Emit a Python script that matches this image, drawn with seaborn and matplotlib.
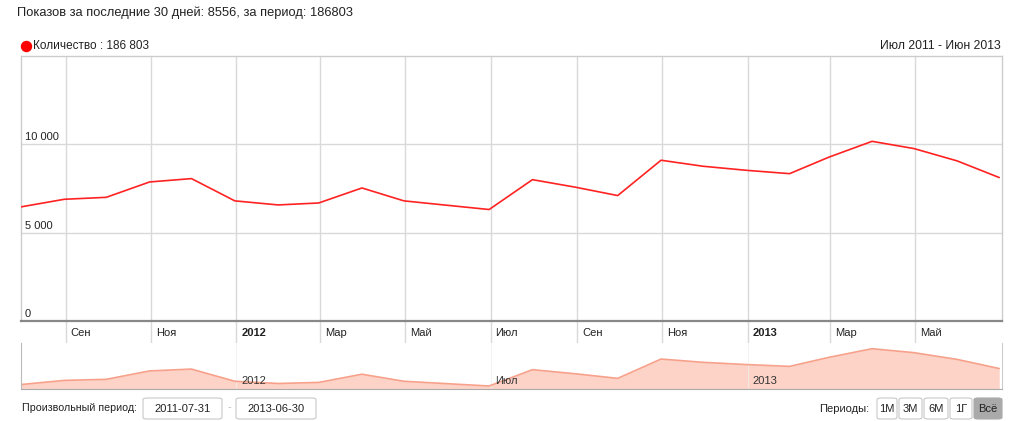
import pandas as pd
import matplotlib
matplotlib.use("Agg")
import matplotlib.pyplot as plt
import matplotlib.transforms as mtransforms
from matplotlib.patches import FancyBboxPatch
from matplotlib.lines import Line2D
import seaborn as sns

# monthly views (end of month)
months = pd.date_range("2011-07-31", "2013-06-30", freq="ME")
views = [6460, 6890, 7000, 7870, 8060, 6800, 6570, 6680, 7530, 6800, 6550, 6310,
         8000, 7570, 7100, 9100, 8760, 8530, 8340, 9270, 10170, 9760, 9060, 8120]

tick_dates = ["2011-09-01", "2011-11-01", "2012-01-01", "2012-03-01", "2012-05-01",
              "2012-07-01", "2012-09-01", "2012-11-01", "2013-01-01", "2013-03-01",
              "2013-05-01"]
tick_labels = ["Сен", "Ноя", "2012", "Мар", "Май", "Июл", "Сен", "Ноя", "2013", "Мар", "Май"]
y_ticks = [0, 5000, 10000]
y_labels = ["0", "5 000", "10 000"]
nav_marks = ["2012-01-01", "2012-07-01", "2013-01-01"]
nav_labels = ["2012", "Июл", "2013"]
periods = ["1М", "3М", "6М", "1Г", "Всё"]

df = pd.DataFrame({"date": months, "views": views})

sns.set_style("white")
plt.rcParams["font.family"] = ["Liberation Sans", "DejaVu Sans"]

fig = plt.figure(figsize=(10.24, 4.21), dpi=100)
W, H = 1024, 421


def fx(px):
    return px / W


def fy(py):
    return 1 - py / H


xmin, xmax = pd.Timestamp("2011-07-31"), pd.Timestamp("2013-07-02")

# main chart
ax = fig.add_axes([fx(21), fy(321), fx(1002) - fx(21), fy(56) - fy(321)])
sns.lineplot(data=df, x="date", y="views", ax=ax, color="#ff2222", lw=1.2, zorder=3)
ax.set_xlim(xmin, xmax)
ax.set_ylim(0, 15000)
ax.set_xlabel("")
ax.set_ylabel("")
ax.set_yticks([])
for v, lab in zip(y_ticks, y_labels):
    if v > 0:
        ax.axhline(v, color="#d9d9d9", lw=1, zorder=1)
    ax.text(0.004, v + 120, lab, transform=ax.get_yaxis_transform(), fontsize=8,
            color="#222222", ha="left", va="bottom")

ticks = pd.to_datetime(tick_dates)
for t in ticks:
    ax.axvline(t, ymin=-22 / 265, ymax=1, color="#d9d9d9", lw=1, clip_on=False, zorder=1)
ax.set_xticks(ticks)
ax.set_xticklabels(tick_labels)
ax.tick_params(axis="x", length=0, pad=5, labelsize=8, labelcolor="#222222")
offset = mtransforms.ScaledTranslation(5 / 100, 0, fig.dpi_scale_trans)
for lab in ax.get_xticklabels():
    lab.set_ha("left")
    lab.set_transform(lab.get_transform() + offset)
    if lab.get_text().isdigit():
        lab.set_fontweight("bold")

for side in ["top", "left", "right"]:
    ax.spines[side].set_color("#cccccc")
    ax.spines[side].set_linewidth(1)
ax.spines["bottom"].set_color("#888888")
ax.spines["bottom"].set_linewidth(1.6)

# navigator
nav = fig.add_axes([fx(21), fy(389), fx(1002) - fx(21), fy(343) - fy(389)])
nav.fill_between(df["date"], 0, df["views"], color="#fdd3c7", lw=0, zorder=1)
sns.lineplot(data=df, x="date", y="views", ax=nav, color="#f7a08a", lw=1.2, zorder=2)
nav.set_xlim(xmin, xmax)
nav.set_ylim(6000, 10760)
nav.set_xticks([])
nav.set_yticks([])
nav.set_xlabel("")
nav.set_ylabel("")
for d, lab in zip(pd.to_datetime(nav_marks), nav_labels):
    nav.axvline(d, color="#eeeeee", lw=0.8, alpha=0.7, zorder=1.5)
    t = nav.text(d, 0.06, lab, transform=nav.get_xaxis_transform(), fontsize=8,
                 color="#333333", ha="left", va="bottom")
    t.set_transform(t.get_transform() + offset)
nav.spines["top"].set_visible(False)
nav.spines["bottom"].set_color("#aaaaaa")
nav.spines["left"].set_color("#bbbbbb")
nav.spines["right"].set_color("#cccccc")

# header and legend
fig.text(fx(17), fy(13), "Показов за последние 30 дней: 8556, за период: 186803",
         fontsize=9.25, color="#222222", va="center", ha="left")
fig.add_artist(Line2D([fx(25.8)], [fy(46)], marker="o", markersize=7.2,
                      color="#ff0000", lw=0))
fig.text(fx(33), fy(46), "Количество : 186 803", fontsize=8.5, color="#222222",
         va="center", ha="left")
fig.text(fx(1001), fy(46), "Июл 2011 - Июн 2013", fontsize=8.8, color="#222222",
         va="center", ha="right")


def box(x0, x1, y0, y1, face="white", edge="#c8c8c8"):
    p = FancyBboxPatch((fx(x0), fy(y1)), fx(x1) - fx(x0), fy(y0) - fy(y1),
                       boxstyle="round,pad=0,rounding_size=0.004",
                       transform=fig.transFigure, facecolor=face, edgecolor=edge, lw=0.8)
    fig.add_artist(p)


# bottom controls
fig.text(fx(22), fy(408), "Произвольный период:", fontsize=7.7, color="#222222",
         va="center", ha="left")
box(143, 222, 398, 419)
fig.text(fx(182.5), fy(408.5), "2011-07-31", fontsize=8, color="#222222", va="center", ha="center")
fig.text(fx(229), fy(407), "-", fontsize=8, color="#bbbbbb", va="center", ha="center")
box(236, 316, 398, 419)
fig.text(fx(276), fy(408.5), "2013-06-30", fontsize=8, color="#222222", va="center", ha="center")

fig.text(fx(869), fy(409), "Периоды:", fontsize=8, color="#222222", va="center", ha="right")
bx = [(877, 897), (899, 922), (924, 948), (950, 972), (974, 1002)]
for (x0, x1), lab in zip(bx, periods):
    if lab == "Всё":
        box(x0, x1, 398, 419, face="#aaaaaa", edge="#aaaaaa")
    else:
        box(x0, x1, 398, 419)
    fig.text(fx((x0 + x1) / 2), fy(408.5), lab, fontsize=8, color="#222222",
             va="center", ha="center")

fig.savefig("out.png", dpi=100, facecolor="white")
